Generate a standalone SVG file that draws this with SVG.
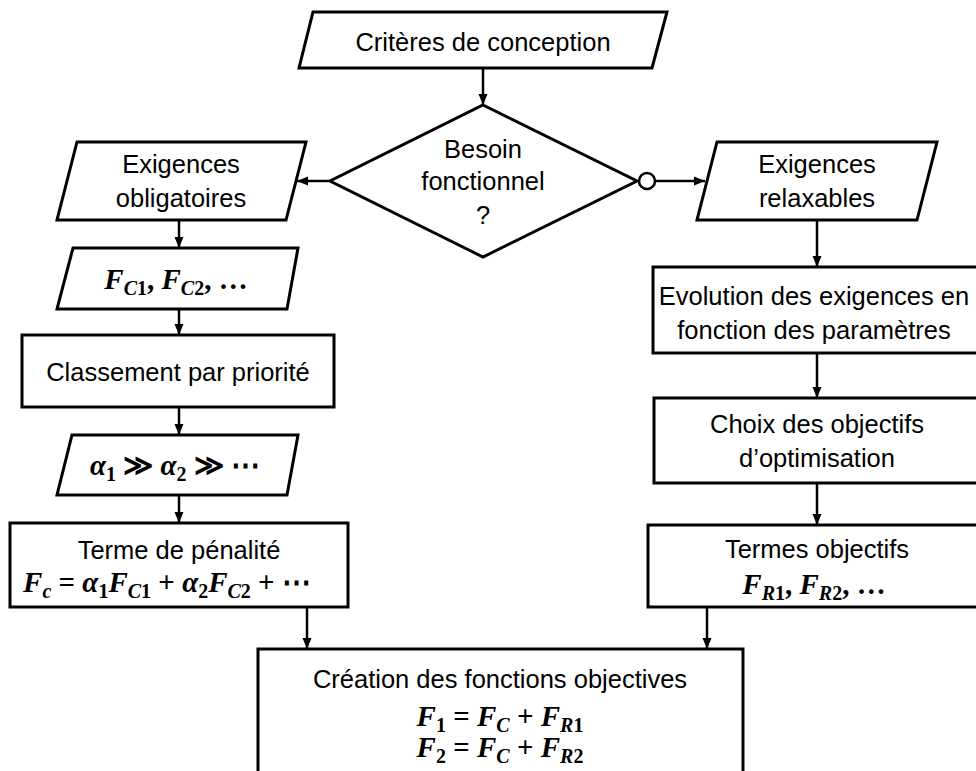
<svg xmlns="http://www.w3.org/2000/svg" width="976" height="771" viewBox="0 0 976 771">
<style>
.shape{fill:#ffffff;stroke:#000000;stroke-width:3;stroke-linejoin:miter}
.conn{fill:none;stroke:#000000;stroke-width:2.5}
.t{font-family:"Liberation Sans",Arial,sans-serif;font-size:25.5px;fill:#000000;text-anchor:middle}
.m{font-family:"Liberation Serif","DejaVu Serif",serif;font-size:29px;font-weight:bold;fill:#000000;text-anchor:middle;white-space:pre}
.i{font-style:italic}
.s{font-size:20px}
</style>
<defs>
<marker id="arr" markerUnits="userSpaceOnUse" markerWidth="12" markerHeight="12" viewBox="0 0 12 12" refX="11" refY="6" orient="auto">
<path d="M0,1.5 L11,6 L0,10.5 Z" fill="#000000"/>
</marker>
</defs>
<rect x="0" y="0" width="976" height="771" fill="#ffffff"/>

<g id="connectors">
<line class="conn" x1="483" y1="68" x2="483" y2="105" marker-end="url(#arr)"/>
<line class="conn" x1="330" y1="181" x2="297" y2="181" marker-end="url(#arr)"/>
<circle cx="647" cy="181" r="8" fill="#ffffff" stroke="#000000" stroke-width="2.5"/>
<line class="conn" x1="655" y1="181" x2="705" y2="181" marker-end="url(#arr)"/>
<line class="conn" x1="179" y1="220" x2="179" y2="248" marker-end="url(#arr)"/>
<line class="conn" x1="179" y1="309" x2="179" y2="335" marker-end="url(#arr)"/>
<line class="conn" x1="179" y1="407" x2="179" y2="435" marker-end="url(#arr)"/>
<line class="conn" x1="179" y1="495" x2="179" y2="523" marker-end="url(#arr)"/>
<line class="conn" x1="307" y1="607" x2="307" y2="649" marker-end="url(#arr)"/>
<line class="conn" x1="817" y1="220" x2="817" y2="267" marker-end="url(#arr)"/>
<line class="conn" x1="817" y1="353" x2="817" y2="398" marker-end="url(#arr)"/>
<line class="conn" x1="817" y1="483" x2="817" y2="525" marker-end="url(#arr)"/>
<line class="conn" x1="707" y1="607" x2="707" y2="649" marker-end="url(#arr)"/>
</g>

<g id="criteres">
<polygon class="shape" points="313,12 667,12 652,68 299,68"/>
<text class="t" x="483" y="51">Critères de conception</text>
</g>

<g id="besoin">
<polygon class="shape" points="483,105 637,181 483,257 330,181"/>
<text class="t" x="483" y="158">Besoin</text>
<text class="t" x="483" y="190">fonctionnel</text>
<text class="t" x="483" y="224">?</text>
</g>

<g id="obligatoires">
<polygon class="shape" points="77,142 306,142 286,220 57,220"/>
<text class="t" x="181" y="173">Exigences</text>
<text class="t" x="181" y="207">obligatoires</text>
</g>

<g id="fc-list">
<polygon class="shape" points="73,248 298,248 287,309 57,309"/>
<text class="m" x="176" y="289"><tspan class="i">F</tspan><tspan class="s i" dy="6">C</tspan><tspan class="s">1</tspan><tspan dy="-6">, </tspan><tspan class="i">F</tspan><tspan class="s i" dy="6">C</tspan><tspan class="s">2</tspan><tspan dy="-6">, …</tspan></text>
</g>

<g id="classement">
<rect class="shape" x="22" y="335" width="312" height="72"/>
<text class="t" x="178" y="381">Classement par priorité</text>
</g>

<g id="alpha">
<polygon class="shape" points="72,435 298,435 287,495 57,495"/>
<text class="m" x="175" y="475"><tspan class="i">α</tspan><tspan class="s" dy="6">1</tspan><tspan dy="-6"> ≫ </tspan><tspan class="i">α</tspan><tspan class="s" dy="6">2</tspan><tspan dy="-6"> ≫ ⋯</tspan></text>
</g>

<g id="penalite">
<rect class="shape" x="10" y="523" width="338" height="84"/>
<text class="t" x="179" y="559">Terme de pénalité</text>
<text class="m" x="167" y="592"><tspan class="i">F</tspan><tspan class="s i" dy="6">c</tspan><tspan dy="-6"> = </tspan><tspan class="i">α</tspan><tspan class="s" dy="6">1</tspan><tspan class="i" dy="-6">F</tspan><tspan class="s i" dy="6">C</tspan><tspan class="s">1</tspan><tspan dy="-6"> + </tspan><tspan class="i">α</tspan><tspan class="s" dy="6">2</tspan><tspan class="i" dy="-6">F</tspan><tspan class="s i" dy="6">C</tspan><tspan class="s">2</tspan><tspan dy="-6"> + ⋯</tspan></text>
</g>

<g id="relaxables">
<polygon class="shape" points="717,142 937,142 917,220 697,220"/>
<text class="t" x="817" y="173">Exigences</text>
<text class="t" x="817" y="207">relaxables</text>
</g>

<g id="evolution">
<rect class="shape" x="653" y="267" width="340" height="86"/>
<text class="t" x="814" y="305">Evolution des exigences en</text>
<text class="t" x="814" y="339">fonction des paramètres</text>
</g>

<g id="choix">
<rect class="shape" x="654" y="398" width="340" height="85"/>
<text class="t" x="817" y="433">Choix des objectifs</text>
<text class="t" x="817" y="467">d’optimisation</text>
</g>

<g id="termes">
<rect class="shape" x="648" y="525" width="345" height="82"/>
<text class="t" x="817" y="558">Termes objectifs</text>
<text class="m" x="814" y="594"><tspan class="i">F</tspan><tspan class="s i" dy="6">R</tspan><tspan class="s">1</tspan><tspan dy="-6">, </tspan><tspan class="i">F</tspan><tspan class="s i" dy="6">R</tspan><tspan class="s">2</tspan><tspan dy="-6">, …</tspan></text>
</g>

<g id="creation">
<rect class="shape" x="258" y="649" width="485" height="140"/>
<text class="t" x="500" y="688">Création des fonctions objectives</text>
<text class="m" x="500" y="726"><tspan class="i">F</tspan><tspan class="s" dy="6">1</tspan><tspan dy="-6"> = </tspan><tspan class="i">F</tspan><tspan class="s i" dy="6">C</tspan><tspan dy="-6"> + </tspan><tspan class="i">F</tspan><tspan class="s i" dy="6">R</tspan><tspan class="s">1</tspan></text>
<text class="m" x="500" y="757"><tspan class="i">F</tspan><tspan class="s" dy="6">2</tspan><tspan dy="-6"> = </tspan><tspan class="i">F</tspan><tspan class="s i" dy="6">C</tspan><tspan dy="-6"> + </tspan><tspan class="i">F</tspan><tspan class="s i" dy="6">R</tspan><tspan class="s">2</tspan></text>
</g>
</svg>
